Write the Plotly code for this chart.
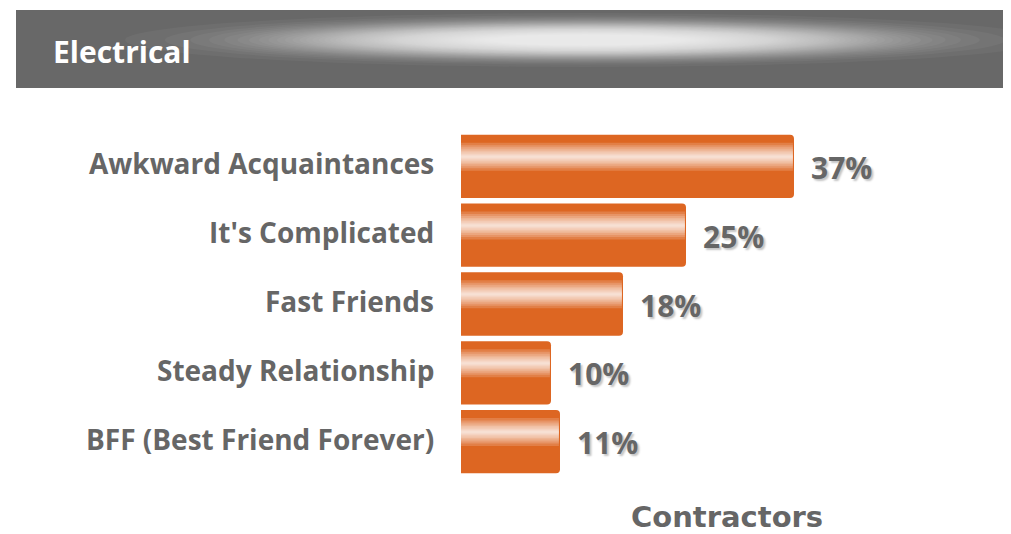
import math
import plotly.graph_objects as go

categories = ["Awkward Acquaintances", "It's Complicated", "Fast Friends",
              "Steady Relationship", "BFF (Best Friend Forever)"]
values = [37, 25, 18, 10, 11]
value_labels = ["37%", "25%", "18%", "10%", "11%"]
header_title = "Electrical"
axis_title = "Contractors"

# page is drawn with an 8px body margin: work in screen pixels, offset by 8
OFF = 8
SW, SH = 1011, 534
W, H = SW - OFF, SH - OFF
PL, PR, PT, PB = 461, 993, 132, 476          # plot area in screen px
L, R, T, B = PL - OFF, W - (PR - OFF), PT - OFF, H - (PB - OFF)
PW = PR - PL
PH = PB - PT
XMAX = PW / 9.0
BARGAP = 0.08
UNIT_PX = PH / len(categories)

BAR = "#DD6622"
GRAY = "#666666"
HEADER = "#686868"
FONT = "Open Sans"


def px2x(px):
    return (px - PL) / PW


def py2y(py):
    return (PB - py) / PH


fig = go.Figure(go.Bar(
    x=values, y=categories, orientation="h",
    marker=dict(color=BAR, cornerradius=4, line=dict(width=0)),
    hoverinfo="skip", showlegend=False,
))

shapes = []
# header band
shapes.append(dict(type="rect", xref="paper", yref="paper",
                   x0=px2x(16), x1=px2x(1015), y0=py2y(88), y1=py2y(10),
                   fillcolor=HEADER, line=dict(width=0), layer="below"))
# soft glow (stack of faint ellipses, gaussian-like spacing)
n = 64
cx, cy = 585, 40
for k in range(1, n + 1):
    f = math.sqrt(-math.log(k / (n + 1))) / math.sqrt(math.log(n + 1))
    ax = 460 * f
    ay = 27 * f
    shapes.append(dict(type="circle", xref="paper", yref="paper",
                       x0=px2x(cx - ax), x1=px2x(cx + ax),
                       y0=py2y(cy + ay), y1=py2y(cy - ay),
                       fillcolor="white", opacity=0.045,
                       line=dict(width=0), layer="below"))

# glossy highlight on bars
heights_px = [28, 23, 19, 15, 12, 9, 6, 4, 2]
for i, v in enumerate(values):
    top = i - (1 - BARGAP) / 2
    center = top + 22 / UNIT_PX
    for h in heights_px:
        half = h / 2 / UNIT_PX
        shapes.append(dict(type="rect", xref="x", yref="y",
                           x0=0, x1=v - 0.12, y0=center - half, y1=center + half,
                           fillcolor="white", opacity=0.17,
                           line=dict(width=0), layer="above"))

annotations = []
for cat in categories:
    annotations.append(dict(
        x=0, y=cat, xref="paper", yref="y", text=cat, showarrow=False,
        xanchor="right", yanchor="middle", xshift=-25, yshift=3,
        font=dict(family=FONT, size=28, color=GRAY, weight="bold"),
    ))
for cat, v, lab in zip(categories, values, value_labels):
    annotations.append(dict(
        x=v, y=cat, xref="x", yref="y", text=lab, showarrow=False,
        xanchor="left", yanchor="middle", xshift=15, yshift=-1,
        font=dict(family=FONT, size=30, color=GRAY, weight="bold",
                  shadow="2px 2px 2px #c4c4c4"),
    ))
annotations.append(dict(
    x=px2x(51), y=py2y(51), xref="paper", yref="paper", text=header_title,
    showarrow=False, xanchor="left", yanchor="middle",
    font=dict(family=FONT, size=30, color="white", weight="bold"),
))
annotations.append(dict(
    x=0.5, y=py2y(517), xref="paper", yref="paper", text=axis_title,
    showarrow=False, xanchor="center", yanchor="middle",
    font=dict(family="DejaVu Sans", size=29, color=GRAY, weight="bold"),
))

fig.update_layout(
    width=W, height=H,
    margin=dict(l=L, r=R, t=T, b=B, pad=0),
    paper_bgcolor="white", plot_bgcolor="white",
    bargap=BARGAP,
    shapes=shapes, annotations=annotations,
    xaxis=dict(range=[0, XMAX], visible=False, showgrid=False, zeroline=False),
    yaxis=dict(range=[len(categories) - 0.5, -0.5], showgrid=False,
               zeroline=False, showline=False, ticks="",
               showticklabels=False),
)

fig.write_html("out.html")
